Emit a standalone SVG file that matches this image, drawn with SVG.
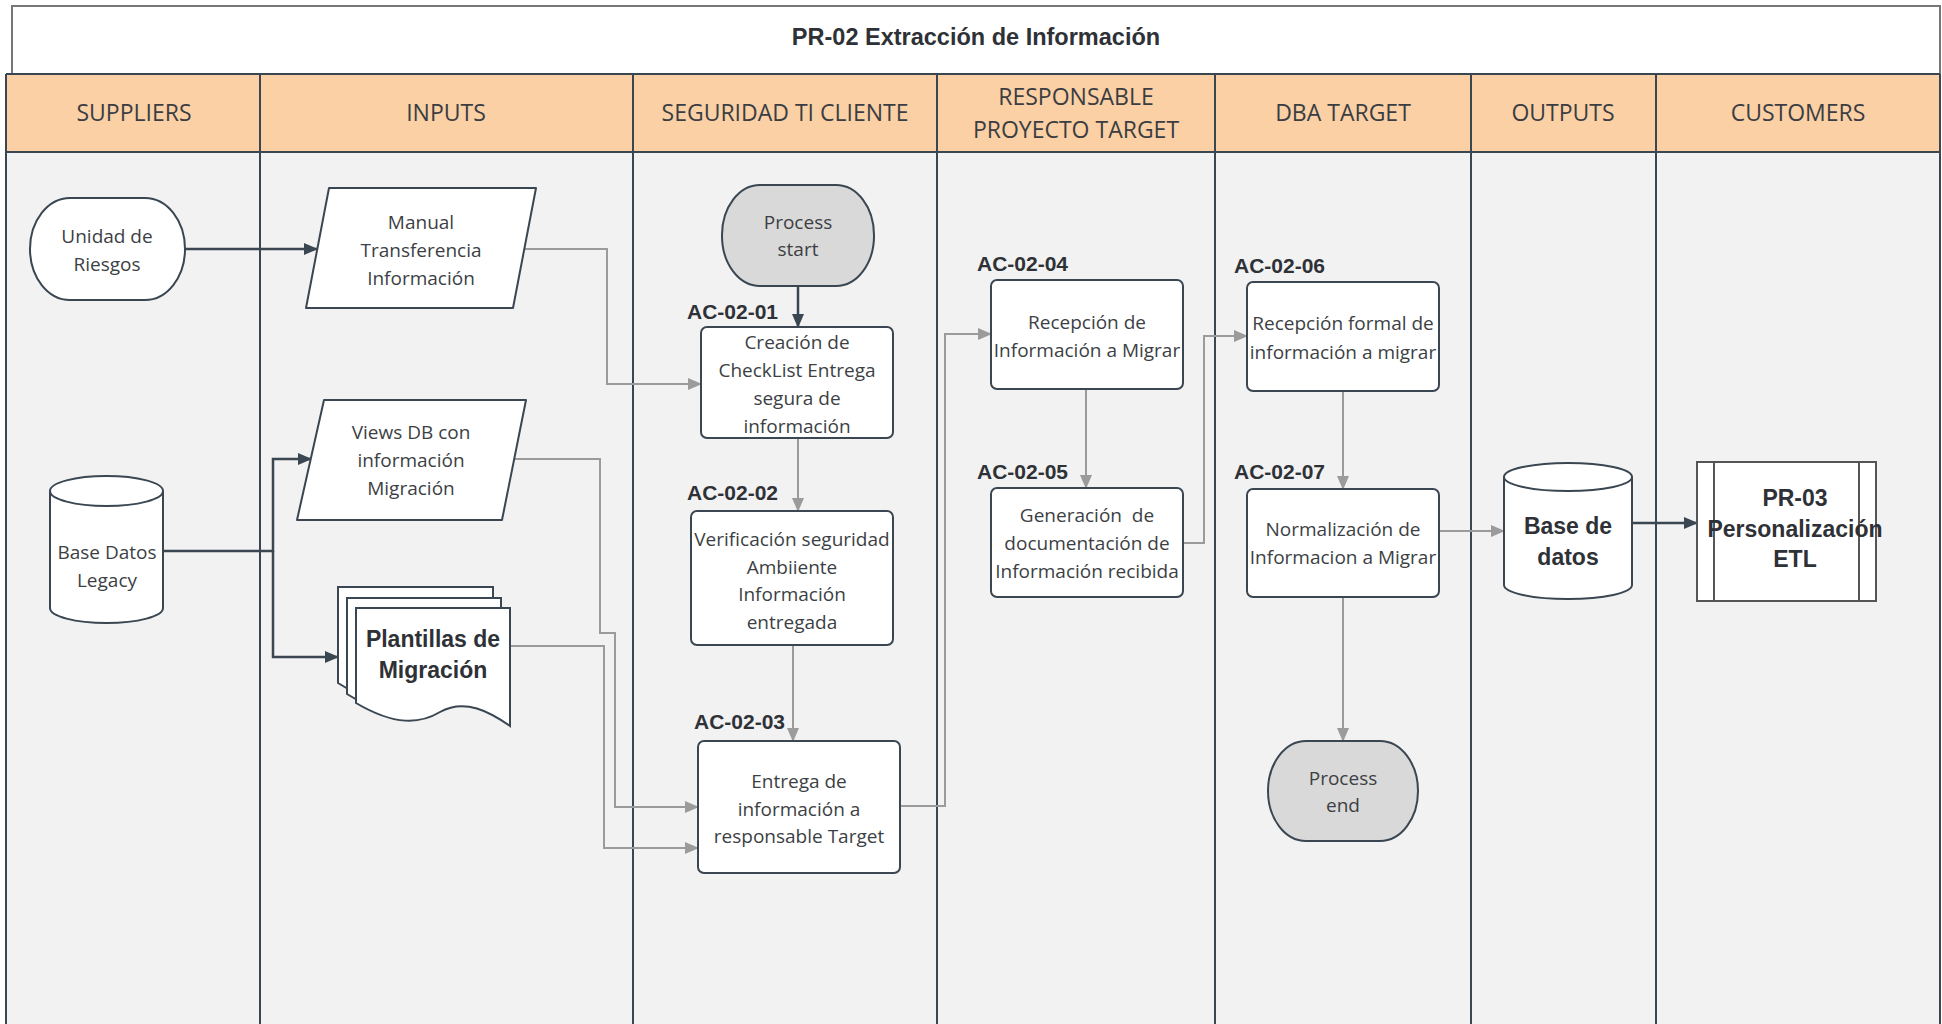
<svg xmlns="http://www.w3.org/2000/svg" width="1942" height="1024" viewBox="0 0 1942 1024">
<defs>
<marker id="ag" markerUnits="userSpaceOnUse" markerWidth="14" markerHeight="12" refX="13" refY="6" orient="auto"><path d="M0,0 L14,6 L0,12 z" fill="#9b9b9b"/></marker>
<marker id="ad" markerUnits="userSpaceOnUse" markerWidth="14" markerHeight="12" refX="13" refY="6" orient="auto"><path d="M0,0 L14,6 L0,12 z" fill="#3a4651"/></marker>
<style>
.lane{fill:#f2f2f2}
.hdr{fill:#fbd0a5}
.ln{stroke:#3a4651;stroke-width:2;fill:none}
.ht{font-family:"Open Sans","Liberation Sans",sans-serif;font-size:23px;fill:#3a3d42;text-anchor:middle}
.t{font-family:"Open Sans","Liberation Sans",sans-serif;font-size:19px;fill:#3c3f44;text-anchor:middle}
.b{font-family:"Liberation Sans",Arial,sans-serif;font-size:23px;font-weight:bold;fill:#2e3136;text-anchor:middle}
.lbl{font-family:"Liberation Sans",Arial,sans-serif;font-size:21px;font-weight:bold;fill:#2e3136}
.box{fill:#fff;stroke:#3a4651;stroke-width:2}
.gray{fill:#d9d9d9;stroke:#3a4651;stroke-width:2}
.cg{stroke:#9b9b9b;stroke-width:2;fill:none;marker-end:url(#ag)}
.cd{stroke:#3a4651;stroke-width:2.5;fill:none;marker-end:url(#ad)}
</style>
</defs>

<g id="background">
<rect x="6" y="74" width="1934" height="960" class="lane"/>
<rect x="6" y="74" width="1934" height="78" class="hdr"/>
<rect x="12" y="6" width="1928" height="68" fill="#fff" stroke="#777" stroke-width="2"/>
<text x="976" y="45" font-family="Liberation Sans, Arial, sans-serif" font-size="23.5" font-weight="bold" fill="#2e3136" text-anchor="middle">PR-02 Extracción de Información</text>
<line x1="6" y1="74" x2="1940" y2="74" class="ln"/>
<line x1="6" y1="152" x2="1940" y2="152" class="ln" stroke-width="3"/>
<line x1="6" y1="74" x2="6" y2="1024" class="ln"/>
<line x1="260" y1="74" x2="260" y2="1024" class="ln"/>
<line x1="633" y1="74" x2="633" y2="1024" class="ln"/>
<line x1="937" y1="74" x2="937" y2="1024" class="ln"/>
<line x1="1215" y1="74" x2="1215" y2="1024" class="ln"/>
<line x1="1471" y1="74" x2="1471" y2="1024" class="ln"/>
<line x1="1656" y1="74" x2="1656" y2="1024" class="ln"/>
<line x1="1940" y1="74" x2="1940" y2="1024" class="ln"/>
<text x="134" y="121" class="ht">SUPPLIERS</text>
<text x="446" y="121" class="ht">INPUTS</text>
<text x="785" y="121" class="ht">SEGURIDAD TI CLIENTE</text>
<text x="1076" y="105" class="ht">RESPONSABLE</text>
<text x="1076" y="138" class="ht">PROYECTO TARGET</text>
<text x="1343" y="121" class="ht">DBA TARGET</text>
<text x="1563" y="121" class="ht">OUTPUTS</text>
<text x="1798" y="121" class="ht">CUSTOMERS</text>
</g>

<g id="connectors">
<path d="M185,249 L317,249" class="cd"/>
<path d="M522,249 L607,249 L607,384 L701,384" class="cg"/>
<path d="M798,286 L798,327" class="cd"/>
<path d="M798,438 L798,511" class="cg"/>
<path d="M793,645 L793,741" class="cg"/>
<path d="M163,551 L273,551 L273,459 L311,459" class="cd"/>
<path d="M273,551 L273,657 L338,657" class="cd"/>
<path d="M512,459 L600,459 L600,633 L615,633 L615,807 L698,807" class="cg"/>
<path d="M510,646 L604,646 L604,848 L698,848" class="cg"/>
<path d="M900,806 L945,806 L945,334 L991,334" class="cg"/>
<path d="M1086,389 L1086,488" class="cg"/>
<path d="M1183,543 L1204,543 L1204,336 L1247,336" class="cg"/>
<path d="M1343,391 L1343,489" class="cg"/>
<path d="M1439,531 L1504,531" class="cg"/>
<path d="M1632,523 L1697,523" class="cd"/>
<path d="M1343,597 L1343,741" class="cg"/>
</g>

<g id="unidad-riesgos">
<rect x="30" y="198" width="155" height="102" rx="40" ry="51" class="box"/>
<text x="107" y="243" class="t">Unidad de</text>
<text x="107" y="271" class="t">Riesgos</text>
</g>

<g id="manual-transferencia">
<path d="M329,188 L536,188 L513,308 L306,308 Z" class="box" stroke-linejoin="round"/>
<text x="421" y="229" class="t">Manual</text>
<text x="421" y="257" class="t">Transferencia</text>
<text x="421" y="285" class="t">Información</text>
</g>

<g id="views-db">
<path d="M324,400 L526,400 L502,520 L297,520 Z" class="box" stroke-linejoin="round"/>
<text x="411" y="439" class="t">Views DB con</text>
<text x="411" y="467" class="t">información</text>
<text x="411" y="495" class="t">Migración</text>
</g>

<g id="base-datos-legacy">
<path d="M50,491 A56.5,15 0 0 1 163,491 L163,608 A56.5,15 0 0 1 50,608 Z" class="box"/>
<path d="M50,491 A56.5,15 0 0 0 163,491" class="box" fill="none"/>
<text x="107" y="559" class="t">Base Datos</text>
<text x="107" y="587" class="t">Legacy</text>
</g>

<g id="plantillas-migracion">
<path d="M338,587 L493,587 L493,706 C473,696 448,683 422,697 C402,708 380,709 338,683 Z" class="box"/>
<path d="M347,598 L501,598 L501,716 C481,706 456,693 430,707 C410,718 388,719 347,694 Z" class="box"/>
<path d="M356,608 L510,608 L510,726 C490,712 465,698 440,712 C420,724 395,726 356,703 Z" class="box"/>
<text x="433" y="647" class="b">Plantillas de</text>
<text x="433" y="678" class="b">Migración</text>
</g>

<g id="process-start">
<rect x="722" y="185" width="152" height="101" rx="38" ry="50" class="gray"/>
<text x="798" y="229" class="t">Process</text>
<text x="798" y="256" class="t">start</text>
</g>

<g id="ac-02-01">
<text x="687" y="319" class="lbl">AC-02-01</text>
<rect x="701" y="327" width="192" height="111" rx="6" class="box"/>
<text x="797" y="349" class="t">Creación de</text>
<text x="797" y="377" class="t">CheckList Entrega</text>
<text x="797" y="405" class="t">segura de</text>
<text x="797" y="433" class="t">información</text>
</g>

<g id="ac-02-02">
<text x="687" y="500" class="lbl">AC-02-02</text>
<rect x="691" y="511" width="202" height="134" rx="6" class="box"/>
<text x="792" y="546" class="t">Verificación seguridad</text>
<text x="792" y="574" class="t">Ambiiente</text>
<text x="792" y="601" class="t">Información</text>
<text x="792" y="629" class="t">entregada</text>
</g>

<g id="ac-02-03">
<text x="694" y="729" class="lbl">AC-02-03</text>
<rect x="698" y="741" width="202" height="132" rx="6" class="box"/>
<text x="799" y="788" class="t">Entrega de</text>
<text x="799" y="816" class="t">información a</text>
<text x="799" y="843" class="t">responsable Target</text>
</g>

<g id="ac-02-04">
<text x="977" y="271" class="lbl">AC-02-04</text>
<rect x="991" y="280" width="192" height="109" rx="6" class="box"/>
<text x="1087" y="329" class="t">Recepción de</text>
<text x="1087" y="357" class="t">Información a Migrar</text>
</g>

<g id="ac-02-05">
<text x="977" y="479" class="lbl">AC-02-05</text>
<rect x="991" y="488" width="192" height="109" rx="6" class="box"/>
<text x="1087" y="522" class="t" xml:space="preserve">Generación  de</text>
<text x="1087" y="550" class="t">documentación de</text>
<text x="1087" y="578" class="t">Información recibida</text>
</g>

<g id="ac-02-06">
<text x="1234" y="273" class="lbl">AC-02-06</text>
<rect x="1247" y="282" width="192" height="109" rx="6" class="box"/>
<text x="1343" y="330" class="t">Recepción formal de</text>
<text x="1343" y="359" class="t">información a migrar</text>
</g>

<g id="ac-02-07">
<text x="1234" y="479" class="lbl">AC-02-07</text>
<rect x="1247" y="489" width="192" height="108" rx="6" class="box"/>
<text x="1343" y="536" class="t">Normalización de</text>
<text x="1343" y="564" class="t">Informacion a Migrar</text>
</g>

<g id="process-end">
<rect x="1268" y="741" width="150" height="100" rx="38" ry="50" class="gray"/>
<text x="1343" y="785" class="t">Process</text>
<text x="1343" y="812" class="t">end</text>
</g>

<g id="base-de-datos">
<path d="M1504,477 A64,14 0 0 1 1632,477 L1632,585 A64,14 0 0 1 1504,585 Z" class="box"/>
<path d="M1504,477 A64,14 0 0 0 1632,477" class="box" fill="none"/>
<text x="1568" y="534" class="b">Base de</text>
<text x="1568" y="565" class="b">datos</text>
</g>

<g id="pr-03">
<rect x="1697" y="462" width="179" height="139" fill="#fff" stroke="#555" stroke-width="2"/>
<line x1="1714" y1="462" x2="1714" y2="601" stroke="#555" stroke-width="2"/>
<line x1="1859" y1="462" x2="1859" y2="601" stroke="#555" stroke-width="2"/>
<text x="1795" y="506" class="b">PR-03</text>
<text x="1795" y="537" class="b">Personalización</text>
<text x="1795" y="567" class="b">ETL</text>
</g>
</svg>
